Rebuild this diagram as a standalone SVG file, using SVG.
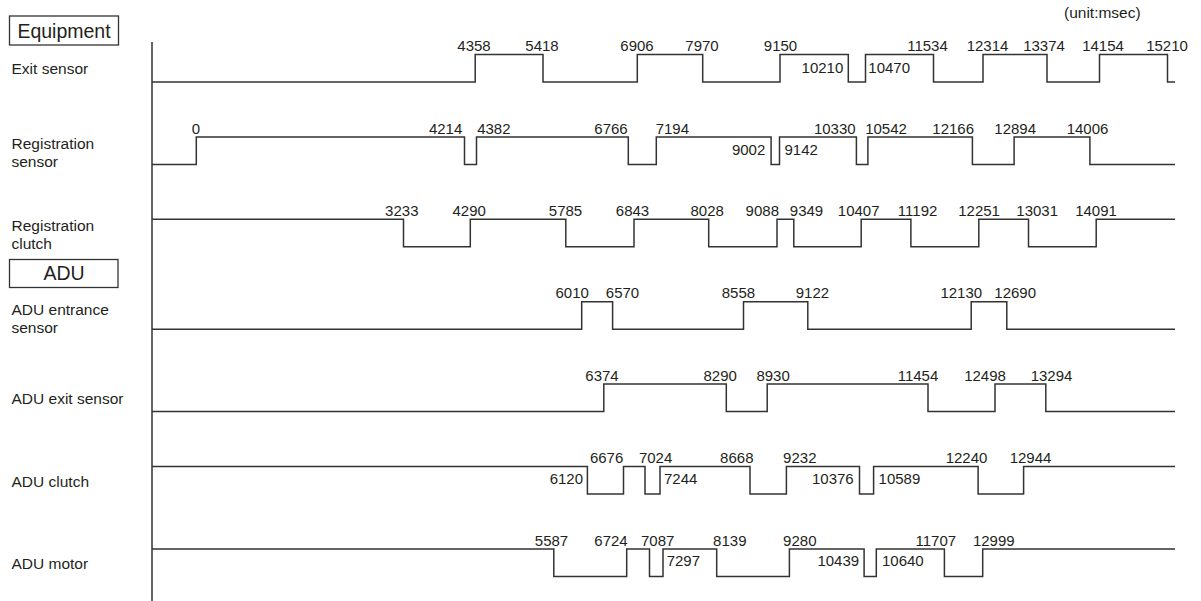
<svg xmlns="http://www.w3.org/2000/svg" width="1201" height="601" viewBox="0 0 1201 601">
<style>
text{font-family:"Liberation Sans",Arial,sans-serif;fill:#231f20}
.n{font-size:15px}
.m{text-anchor:middle}
.e{text-anchor:end}
.lbl{font-size:15.5px}
.hdr{font-size:19.5px;text-anchor:middle}
.w{fill:none;stroke:#333;stroke-width:1.5}
.box{fill:#fff;stroke:#333;stroke-width:1.3}
</style>
<rect width="1201" height="601" fill="#fff"/>
<g id="headers">
<g id="equipment-header"><rect class="box" x="9.5" y="16" width="109" height="29"/><text class="hdr" x="64" y="37.5">Equipment</text></g>
<g id="adu-header"><rect class="box" x="9.5" y="259.5" width="108.5" height="28"/><text class="hdr" x="64" y="280">ADU</text></g>
<text class="lbl" x="1064" y="17.5">(unit:msec)</text>
</g>
<g id="axis"><line class="w" x1="152" y1="42" x2="152" y2="601"/></g>

<g id="row-exit-sensor">
<text class="lbl" x="11.5" y="74">Exit sensor</text>
<path class="w" d="M152,82 H475.2 V54.5 H543 V82 H637.3 V54.5 H702.7 V82 H780 V54.5 H848.3 V82 H865.5 V54.5 H933.5 V82 H983 V54.5 H1047 V82 H1099.5 V54.5 H1167.5 V82 H1175"/>
<g class="n m">
<text x="474" y="51">4358</text><text x="542" y="51">5418</text><text x="637" y="51">6906</text><text x="702" y="51">7970</text><text x="780.5" y="51">9150</text><text x="927.5" y="51">11534</text><text x="987.5" y="51">12314</text><text x="1044" y="51">13374</text><text x="1103" y="51">14154</text><text x="1167" y="51">15210</text>
</g>
<text class="n e" x="843.3" y="72.5">10210</text><text class="n" x="868.3" y="72.5">10470</text>
</g>

<g id="row-registration-sensor">
<text class="lbl" x="11.5" y="149.3">Registration</text><text class="lbl" x="11.5" y="167.3">sensor</text>
<path class="w" d="M152,164.5 H196.3 V137 H464.5 V164.5 H476.5 V137 H628.3 V164.5 H656.3 V137 H771.1 V164.5 H779.5 V137 H856.4 V164.5 H867.9 V137 H972.4 V164.5 H1014.1 V137 H1089.9 V164.5 H1175"/>
<text class="n m" x="196" y="133.5">0</text>
<text class="n e" x="462.3" y="133.5">4214</text><text class="n" x="477.2" y="133.5">4382</text>
<text class="n e" x="627.7" y="133.5">6766</text><text class="n" x="655.7" y="133.5">7194</text>
<text class="n e" x="765.3" y="154.5">9002</text><text class="n" x="784.5" y="154.5">9142</text>
<text class="n e" x="855.6" y="133.5">10330</text><text class="n" x="865.2" y="133.5">10542</text>
<text class="n m" x="953.2" y="133.5">12166</text><text class="n m" x="1015.2" y="133.5">12894</text><text class="n m" x="1087.5" y="133.5">14006</text>
</g>

<g id="row-registration-clutch">
<text class="lbl" x="11.5" y="230.5">Registration</text><text class="lbl" x="11.5" y="248.5">clutch</text>
<path class="w" d="M152,219.3 H403.5 V246.8 H470.3 V219.3 H565.8 V246.8 H634 V219.3 H708.7 V246.8 H777 V219.3 H793.8 V246.8 H861.2 V219.3 H910.9 V246.8 H978.8 V219.3 H1028.5 V246.8 H1096.2 V219.3 H1175"/>
<g class="n m">
<text x="401.8" y="215.8">3233</text><text x="469.2" y="215.8">4290</text><text x="565.5" y="215.8">5785</text><text x="632.5" y="215.8">6843</text><text x="707.2" y="215.8">8028</text><text x="762.3" y="215.8">9088</text><text x="806.5" y="215.8">9349</text><text x="858.7" y="215.8">10407</text><text x="917.6" y="215.8">11192</text><text x="979.1" y="215.8">12251</text><text x="1037.2" y="215.8">13031</text><text x="1096" y="215.8">14091</text>
</g>
</g>

<g id="row-adu-entrance-sensor">
<text class="lbl" x="11.5" y="314.5">ADU entrance</text><text class="lbl" x="11.5" y="332.5">sensor</text>
<path class="w" d="M152,329.2 H581.7 V301.7 H612.6 V329.2 H743.5 V301.7 H807.8 V329.2 H971.2 V301.7 H1006.8 V329.2 H1175"/>
<g class="n m">
<text x="572.2" y="298.2">6010</text><text x="622.5" y="298.2">6570</text><text x="738.4" y="298.2">8558</text><text x="812.4" y="298.2">9122</text><text x="961.3" y="298.2">12130</text><text x="1015.2" y="298.2">12690</text>
</g>
</g>

<g id="row-adu-exit-sensor">
<text class="lbl" x="11.5" y="403.5">ADU exit sensor</text>
<path class="w" d="M152,411.6 H603.8 V384.1 H726.3 V411.6 H767.2 V384.1 H928 V411.6 H995 V384.1 H1045.8 V411.6 H1175"/>
<g class="n m">
<text x="602" y="380.6">6374</text><text x="720.2" y="380.6">8290</text><text x="773.1" y="380.6">8930</text><text x="918" y="380.6">11454</text><text x="985" y="380.6">12498</text><text x="1051.5" y="380.6">13294</text>
</g>
</g>

<g id="row-adu-clutch">
<text class="lbl" x="11.5" y="487">ADU clutch</text>
<path class="w" d="M152,466.6 H587.4 V494.1 H623.5 V466.6 H645 V494.1 H660 V466.6 H750 V494.1 H786.4 V466.6 H859.5 V494.1 H873.6 V466.6 H978.1 V494.1 H1023.6 V466.6 H1175"/>
<text class="n e" x="623.3" y="463">6676</text>
<g class="n m">
<text x="655.6" y="463">7024</text><text x="736.8" y="463">8668</text><text x="799.8" y="463">9232</text><text x="966.5" y="463">12240</text><text x="1030.5" y="463">12944</text>
</g>
<text class="n e" x="583" y="483.5">6120</text><text class="n" x="664" y="483.5">7244</text>
<text class="n e" x="853.7" y="483.5">10376</text><text class="n" x="878.6" y="483.5">10589</text>
</g>

<g id="row-adu-motor">
<text class="lbl" x="11.5" y="569">ADU motor</text>
<path class="w" d="M152,549 H553.8 V576.5 H626.7 V549 H649.5 V576.5 H663 V549 H716.7 V576.5 H789.4 V549 H864.1 V576.5 H876.3 V549 H944.4 V576.5 H982.7 V549 H1175"/>
<text class="n m" x="551.5" y="545.5">5587</text>
<text class="n e" x="627.7" y="545.5">6724</text>
<g class="n m">
<text x="657.7" y="545.5">7087</text><text x="729.8" y="545.5">8139</text><text x="799.8" y="545.5">9280</text><text x="935.8" y="545.5">11707</text><text x="993.8" y="545.5">12999</text>
</g>
<text class="n" x="666.7" y="566">7297</text>
<text class="n e" x="859.1" y="566">10439</text><text class="n" x="882" y="566">10640</text>
</g>
</svg>
